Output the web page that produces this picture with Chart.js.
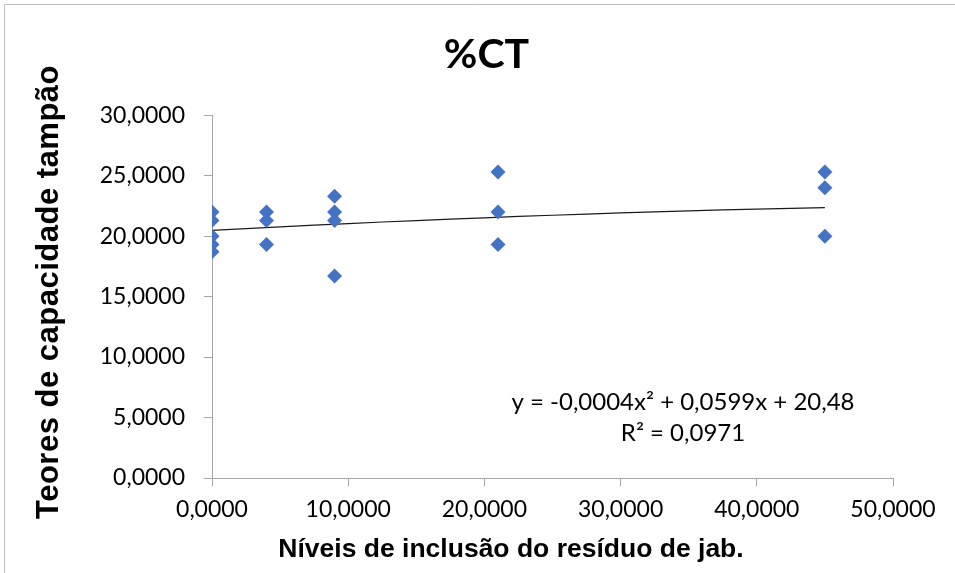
<!DOCTYPE html>
<html>
<head>
<meta charset="utf-8">
<script src="https://cdn.jsdelivr.net/npm/chart.js@4.4.1/dist/chart.umd.min.js"></script>
<style>
  html, body { margin: 0; padding: 0; background: #fff; }
  #wrap { width: 955px; height: 573px; position: relative; }
</style>
</head>
<body>
<div id="wrap"><canvas id="ctChart" width="955" height="573"></canvas></div>
<script>
// observed values (x = inclusion level, y = CT)
const pointsX = [0, 0, 0, 0, 0, 4, 4, 4, 9, 9, 9, 9, 21, 21, 21, 45, 45, 45];
const pointsY = [22.0, 21.3, 20.0, 19.3, 18.7, 22.0, 21.3, 19.3, 23.3, 22.0, 21.3, 16.7, 25.3, 22.0, 19.3, 25.3, 24.0, 20.0];

// trend line as printed on the chart: y = c0 + c1*x + c2*x^2
const trendCoefs = [20.48, 0.0599, -0.0004];
const trendX = [0, 5, 10, 15, 20, 25, 30, 35, 40, 45];

const xTicks = [0, 10, 20, 30, 40, 50];
const yTicks = [0, 5, 10, 15, 20, 25, 30];

const titleText = '%CT';
const xTitle = 'Níveis de inclusão do resíduo de jab.';
const yTitle = 'Teores de capacidade tampão';
const eqLines = ['y = -0,0004x² + 0,0599x + 20,48', 'R² = 0,0971'];

const fmt = v => v.toFixed(4).replace('.', ',');

const scatterData = pointsX.map((x, i) => ({ x: x, y: pointsY[i] }));
const trendData = trendX.map(x => ({
  x: x,
  y: trendCoefs[0] + trendCoefs[1] * x + trendCoefs[2] * x * x
}));

// texts and frame drawn on top of the chart
const extras = {
  id: 'extras',
  afterDraw(chart) {
    const ctx = chart.ctx;
    ctx.save();
    // outer frame
    ctx.strokeStyle = '#bdbdbd';
    ctx.lineWidth = 1;
    ctx.beginPath();
    ctx.moveTo(4.5, 573);
    ctx.lineTo(4.5, 4.5);
    ctx.lineTo(955, 4.5);
    ctx.stroke();

    ctx.fillStyle = '#000';
    // x axis title
    ctx.font = 'bold 26.5px "Liberation Sans", Arial, sans-serif';
    ctx.textAlign = 'center';
    ctx.textBaseline = 'alphabetic';
    ctx.fillText(xTitle, 511, 557);

    // y axis title
    ctx.save();
    ctx.translate(58, 292);
    ctx.rotate(-Math.PI / 2);
    ctx.font = 'bold 31px "Liberation Sans", Arial, sans-serif';
    if ('letterSpacing' in ctx) ctx.letterSpacing = '0.5px';
    ctx.fillText(yTitle, 0, 0);
    ctx.restore();

    // trend equation
    ctx.font = '24px Lato, sans-serif';
    ctx.fillText(eqLines[0], 683, 410);
    ctx.fillText(eqLines[1], 683, 441);
    ctx.restore();
  }
};

new Chart(document.getElementById('ctChart'), {
  type: 'scatter',
  data: {
    datasets: [
      {
        label: 'CT',
        data: scatterData,
        pointStyle: 'rectRot',
        pointRadius: 7.5,
        pointHoverRadius: 7.5,
        backgroundColor: '#4472C4',
        borderWidth: 0
      },
      {
        label: 'Trend',
        type: 'line',
        data: trendData,
        borderColor: '#1a1a1a',
        borderWidth: 1.2,
        pointRadius: 0,
        fill: false,
        tension: 0.4
      }
    ]
  },
  options: {
    responsive: false,
    animation: false,
    // left padding pushes the title to the middle of the whole frame
    layout: { padding: { left: 80, right: 62, top: 0, bottom: 0 } },
    plugins: {
      legend: { display: false },
      tooltip: { enabled: false },
      title: {
        display: true,
        text: titleText,
        color: '#000',
        font: { family: 'Lato', size: 41, weight: 'bold', lineHeight: 1.2 },
        padding: { top: 30, bottom: 36 }
      }
    },
    scales: {
      x: {
        type: 'linear',
        min: 0,
        max: 50,
        afterBuildTicks: s => { s.ticks = xTicks.map(v => ({ value: v })); },
        afterFit: s => { s.height = 95; },
        grid: { drawOnChartArea: false, drawTicks: true, tickLength: 8, color: '#a6a6a6' },
        border: { display: true, color: '#a6a6a6' },
        ticks: {
          color: '#000',
          padding: 10,
          maxRotation: 0,
          font: { family: 'Lato', size: 23 },
          callback: v => fmt(v)
        }
      },
      y: {
        type: 'linear',
        min: 0,
        max: 30,
        afterBuildTicks: s => { s.ticks = yTicks.map(v => ({ value: v })); },
        afterFit: s => { s.width = 132; },
        grid: { drawOnChartArea: false, drawTicks: true, tickLength: 8, color: '#a6a6a6' },
        border: { display: true, color: '#a6a6a6' },
        ticks: {
          color: '#000',
          padding: 19,
          font: { family: 'Lato', size: 23 },
          callback: v => fmt(v)
        }
      }
    }
  },
  plugins: [extras]
});
</script>
</body>
</html>
